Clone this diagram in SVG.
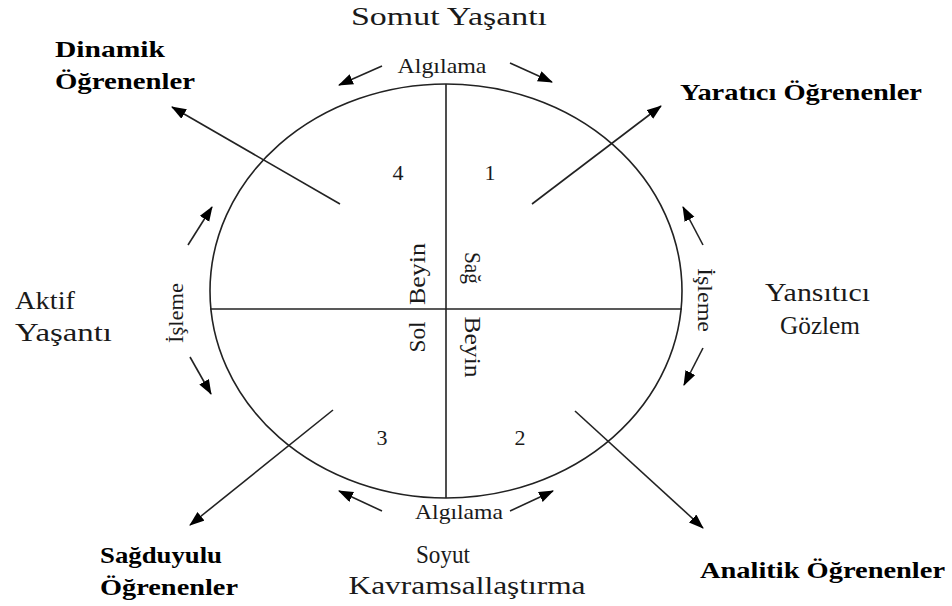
<svg xmlns="http://www.w3.org/2000/svg" width="952" height="606" viewBox="0 0 952 606">
<style>
text{font-family:"Liberation Serif","Times New Roman",serif;fill:#1a1a1a;font-size:25px}
.b{font-weight:bold;fill:#000;font-size:24px}
.s{font-size:21px}
.n{font-size:22px}
.r{font-size:23px}
.ln{stroke:#222;stroke-width:1.6;fill:none}
.ar{stroke:#222;stroke-width:1.6;fill:none;marker-end:url(#ah)}
</style>
<defs>
<marker id="ah" markerUnits="userSpaceOnUse" markerWidth="16" markerHeight="12" refX="14" refY="5.5" orient="auto"><path d="M0,0 L15,5.5 L0,11 z" fill="#000"/></marker>
</defs>
<rect width="952" height="606" fill="#fff"/>
<g id="ellipse">
<ellipse class="ln" cx="446" cy="291" rx="236" ry="207"/>
<line class="ln" x1="446" y1="84" x2="446" y2="498"/>
<line class="ln" x1="210" y1="309" x2="682" y2="309"/>
</g>
<g id="connectors">
<line class="ar" x1="340" y1="204" x2="172" y2="107"/>
<line class="ar" x1="532" y1="204" x2="661" y2="106"/>
<line class="ar" x1="575" y1="411" x2="703" y2="528"/>
<line class="ar" x1="333" y1="410" x2="190" y2="525"/>
<line class="ar" x1="382" y1="66" x2="339" y2="85"/>
<line class="ar" x1="510" y1="63" x2="552" y2="82"/>
<line class="ar" x1="188" y1="245" x2="212" y2="207"/>
<line class="ar" x1="190" y1="357" x2="211" y2="394"/>
<line class="ar" x1="703" y1="245" x2="683" y2="207"/>
<line class="ar" x1="703" y1="348" x2="684" y2="385"/>
<line class="ar" x1="382" y1="511" x2="339" y2="491"/>
<line class="ar" x1="510" y1="511" x2="553" y2="491"/>
</g>
<g id="top"><text x="449" y="25" text-anchor="middle" textLength="196" lengthAdjust="spacingAndGlyphs">Somut Yaşantı</text>
<text class="s" x="442" y="73" text-anchor="middle" textLength="89" lengthAdjust="spacingAndGlyphs">Algılama</text></g>
<g id="dinamik"><text class="b" x="55" y="57" textLength="110" lengthAdjust="spacingAndGlyphs">Dinamik</text>
<text class="b" x="55" y="89" textLength="140" lengthAdjust="spacingAndGlyphs">Öğrenenler</text></g>
<g id="yaratici"><text class="b" x="680" y="100" textLength="242" lengthAdjust="spacingAndGlyphs">Yaratıcı Öğrenenler</text></g>
<g id="quadrants">
<text class="n" x="398" y="180" text-anchor="middle">4</text>
<text class="n" x="490" y="180" text-anchor="middle">1</text>
<text class="n" x="382" y="445" text-anchor="middle">3</text>
<text class="n" x="520" y="445" text-anchor="middle">2</text>
</g>
<g id="aktif"><text x="15" y="309" textLength="60" lengthAdjust="spacingAndGlyphs">Aktif</text>
<text x="15" y="341" textLength="97" lengthAdjust="spacingAndGlyphs">Yaşantı</text></g>
<g id="yansitici"><text x="765" y="301" textLength="105" lengthAdjust="spacingAndGlyphs">Yansıtıcı</text>
<text x="780" y="334" textLength="80" lengthAdjust="spacingAndGlyphs">Gözlem</text></g>
<g id="isleme-left"><text class="s" transform="translate(183,313) rotate(-90)" text-anchor="middle" textLength="60" lengthAdjust="spacingAndGlyphs">İşleme</text></g>
<g id="isleme-right"><text class="s" transform="translate(698,300) rotate(90)" text-anchor="middle" textLength="64" lengthAdjust="spacingAndGlyphs">İşleme</text></g>
<g id="sol-beyin">
<text class="r" transform="translate(425,274) rotate(-90)" text-anchor="middle" textLength="62" lengthAdjust="spacingAndGlyphs">Beyin</text>
<text class="r" transform="translate(425,337) rotate(-90)" text-anchor="middle" textLength="31" lengthAdjust="spacingAndGlyphs">Sol</text>
</g>
<g id="sag-beyin">
<text class="r" transform="translate(465,268) rotate(90)" text-anchor="middle" textLength="32" lengthAdjust="spacingAndGlyphs">Sağ</text>
<text class="r" transform="translate(465,347) rotate(90)" text-anchor="middle" textLength="61" lengthAdjust="spacingAndGlyphs">Beyin</text>
</g>
<g id="bottom"><text class="s" x="459" y="519" text-anchor="middle" textLength="88" lengthAdjust="spacingAndGlyphs">Algılama</text>
<text x="443" y="563" text-anchor="middle" textLength="54" lengthAdjust="spacingAndGlyphs">Soyut</text>
<text x="467" y="594" text-anchor="middle" textLength="237" lengthAdjust="spacingAndGlyphs">Kavramsallaştırma</text></g>
<g id="sagduyulu"><text class="b" x="100" y="563" textLength="122" lengthAdjust="spacingAndGlyphs">Sağduyulu</text>
<text class="b" x="100" y="595" textLength="138" lengthAdjust="spacingAndGlyphs">Öğrenenler</text></g>
<g id="analitik"><text class="b" x="700" y="578" textLength="245" lengthAdjust="spacingAndGlyphs">Analitik Öğrenenler</text></g>
</svg>
